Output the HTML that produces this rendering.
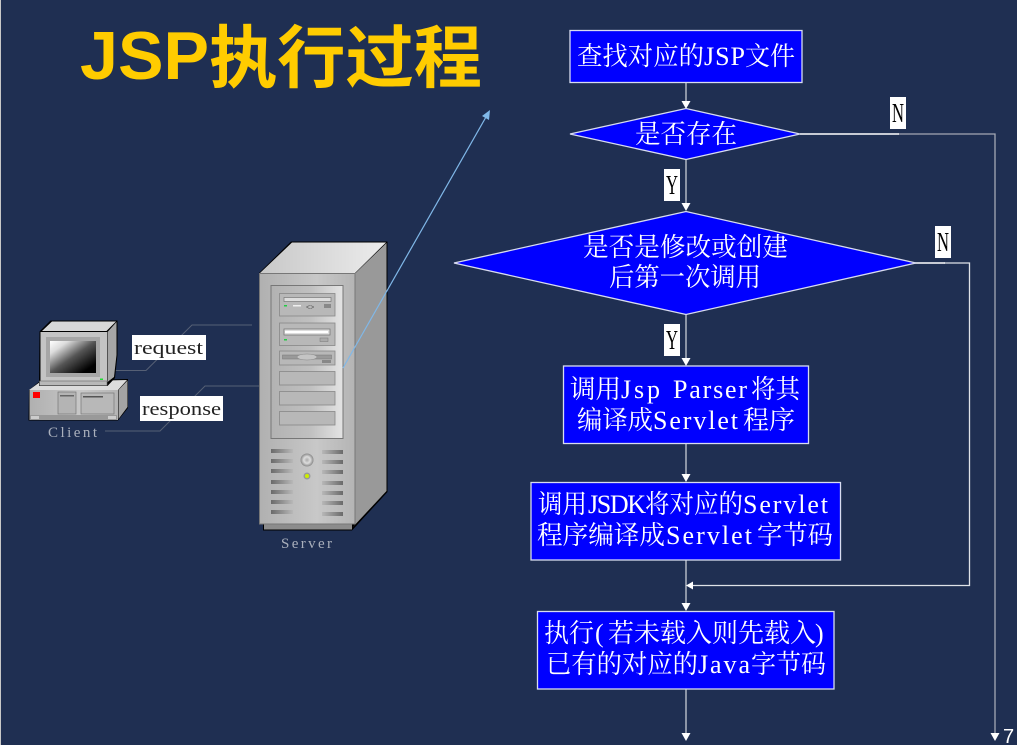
<!DOCTYPE html>
<html><head><meta charset="utf-8"><style>
html,body{margin:0;padding:0;background:#1f2f52;width:1017px;height:745px;overflow:hidden}
svg{display:block}
.t{font-family:"Liberation Serif","Noto Serif CJK SC",serif;font-size:26px;fill:#fff}
.a{font-family:"Liberation Serif",serif;font-size:26px;fill:#fff}
.l{font-family:"Liberation Serif",serif;font-size:27px;fill:#000}
.m{font-family:"Liberation Serif",serif;font-size:19px;fill:#222}
.c{font-family:"Liberation Serif",serif;font-size:15px;fill:#aab0bc}
</style></head><body>
<svg width="1017" height="745" viewBox="0 0 1017 745" xmlns="http://www.w3.org/2000/svg">
<defs>
<linearGradient id="g1" x1="0" x2="1" y1="0" y2="0"><stop offset="0" stop-color="#b0b0b0"/><stop offset="0.6" stop-color="#c8c8c8"/><stop offset="1" stop-color="#b4b4b4"/></linearGradient>
<linearGradient id="g2" x1="0" x2="1" y1="0" y2="0"><stop offset="0" stop-color="#b2b2b2"/><stop offset="0.55" stop-color="#c0c0c0"/><stop offset="1" stop-color="#e4e4e4"/></linearGradient>
<linearGradient id="g3" x1="0" x2="1" y1="0" y2="0"><stop offset="0" stop-color="#c8c8c8"/><stop offset="1" stop-color="#ececec"/></linearGradient>
<linearGradient id="scr" x1="0" y1="0" x2="1" y2="1"><stop offset="0" stop-color="#fff"/><stop offset="0.2" stop-color="#ddd"/><stop offset="0.5" stop-color="#555"/><stop offset="0.85" stop-color="#000"/></linearGradient>
<linearGradient id="vl" x1="0" x2="1" y1="0" y2="0"><stop offset="0" stop-color="#6a6a6a"/><stop offset="1" stop-color="#b8b8b8"/></linearGradient>
<linearGradient id="vr" x1="0" x2="1" y1="0" y2="0"><stop offset="0" stop-color="#b8b8b8"/><stop offset="1" stop-color="#6a6a6a"/></linearGradient>
<radialGradient id="knob"><stop offset="0" stop-color="#aaa"/><stop offset="0.5" stop-color="#ddd"/><stop offset="1" stop-color="#888"/></radialGradient>
</defs>
<rect x="0" y="0" width="1" height="745" fill="#c8c8c8"/>

<!-- Title -->
<text x="80" y="79" font-family="'Liberation Sans',sans-serif" font-weight="700" font-size="68" fill="#ffcc00" textLength="129" lengthAdjust="spacingAndGlyphs">JSP</text>
<text x="209" y="82" font-family="'Noto Sans CJK SC',sans-serif" font-weight="700" font-size="68" fill="#ffcc00" textLength="273" lengthAdjust="spacingAndGlyphs">执行过程</text>

<!-- connection lines -->
<g fill="none" stroke="#566075" stroke-width="1">
<polyline points="115,370.5 146,370.5 192,325 252,325"/>
<polyline points="105,431 160,431 205,386 259,386"/>
</g>

<!-- Client -->
<g>
<polygon points="29,390 40,381 128,379 128,408 118,420.500 28.500,420.500" fill="#000"/>
<polygon points="40,382 127,380 118,390 29,390" fill="#dcdcdc"/>
<polygon points="118.500,390 127.500,380.500 127.500,407 118.500,419" fill="#a4a4a4"/>
<rect x="29.500" y="390" width="88.500" height="30" fill="url(#g1)"/>
<rect x="30" y="415" width="87" height="5" fill="#999"/>
<rect x="31" y="416" width="8" height="3" fill="#ccc"/><rect x="108" y="416" width="8" height="3" fill="#ccc"/>
<rect x="33" y="392" width="7" height="6" fill="#f00"/>
<rect x="58" y="392" width="18" height="22" fill="#b4b4b4" stroke="#777" stroke-width="0.7"/>
<rect x="60" y="395" width="14" height="1.500" fill="#666"/>
<rect x="81" y="393" width="33" height="21" fill="#b8b8b8" stroke="#777" stroke-width="0.7"/>
<rect x="83" y="396" width="20" height="1.500" fill="#555"/>
<polygon points="39.500,331.500 50.500,320.500 117.500,320.500 117.500,355 115,378 107.500,386 39,386" fill="#000"/>
<polygon points="42,331 52,321.500 116,321.500 106.500,331" fill="#d8d8d8"/>
<polygon points="107.500,332 116.500,322 116.500,355 114,377 107.500,382" fill="#a6a6a6"/>
<rect x="40.500" y="332" width="66.500" height="52" fill="#c4c4c4"/>
<rect x="46" y="337" width="54" height="40" fill="#a6a6a6"/>
<rect x="50" y="341" width="46" height="32" fill="url(#scr)"/>
<rect x="100" y="378.500" width="3" height="1.500" fill="#22dd33"/>
<rect x="39.500" y="381" width="67.500" height="4.500" fill="#b8b8b8" stroke="#666" stroke-width="0.6"/>
</g>
<text class="c" x="48" y="437" textLength="49" lengthAdjust="spacing">Client</text>

<!-- Labels -->
<rect x="132" y="335" width="74" height="25" fill="#fff"/>
<text class="m" x="134" y="354" textLength="69" lengthAdjust="spacingAndGlyphs">request</text>
<rect x="140" y="396" width="83" height="25" fill="#fff"/>
<text class="m" x="142" y="415" textLength="79" lengthAdjust="spacingAndGlyphs">response</text>

<!-- Server -->
<g>
<polygon points="259,273 291,241.500 387.500,241.500 387.500,492 352,530.500 263,530.500 263,524 259,524" fill="#000"/>
<polygon points="260,273 292,242.500 386,242.500 355,273" fill="url(#g3)"/>
<polygon points="355.500,273 386.500,243 386.500,491 352,528 355.500,524" fill="#999"/>
<rect x="264" y="524" width="88" height="5.500" fill="#8c8c8c"/>
<rect x="259.500" y="273.500" width="95.500" height="250.500" fill="url(#g1)" stroke="#777" stroke-width="1"/>
<rect x="271" y="285.500" width="72" height="153" fill="url(#g2)" stroke="#777" stroke-width="1"/>
<g fill="#b8b8b8" stroke="#888" stroke-width="0.8">
<rect x="279.500" y="293.500" width="55.500" height="22.500"/>
<rect x="279.500" y="323" width="55.500" height="22.500"/>
<rect x="279.500" y="351" width="55.500" height="14"/>
<rect x="279.500" y="371.500" width="55.500" height="13.500"/>
<rect x="279.500" y="391.500" width="55.500" height="13.500"/>
<rect x="279.500" y="411.500" width="55.500" height="13.500"/>
</g>
<rect x="284" y="297.500" width="47" height="4" fill="#ddd" stroke="#777" stroke-width="0.7"/>
<rect x="293" y="305" width="8" height="1.500" fill="#eee"/>
<text x="306" y="309.500" font-family="'Liberation Sans',sans-serif" font-size="7" fill="#555">&lt;&gt;</text>
<rect x="324" y="304" width="7" height="4" fill="#888"/>
<rect x="284" y="329" width="46" height="6" fill="#ddd" stroke="#777" stroke-width="0.8"/>
<rect x="285" y="331" width="43" height="2" fill="#fff"/>
<rect x="320" y="338" width="8" height="3.500" fill="#aaa" stroke="#777" stroke-width="0.5"/>
<rect x="284" y="305" width="3" height="1.500" fill="#22cc44"/>
<rect x="284" y="339" width="3" height="1.500" fill="#22cc44"/>
<rect x="282.500" y="355" width="49" height="4" fill="#999" stroke="#777" stroke-width="0.5"/>
<ellipse cx="307" cy="357" rx="10" ry="3" fill="#c4c4c4" stroke="#888" stroke-width="0.5"/>
<rect x="322" y="360" width="9" height="3" fill="#888"/>
<g fill="url(#vl)">
<rect x="271" y="449" width="22" height="4"/><rect x="271" y="459" width="22" height="4"/><rect x="271" y="469" width="22" height="4"/><rect x="271" y="480" width="22" height="4"/><rect x="271" y="490" width="22" height="4"/><rect x="271" y="500" width="22" height="4"/><rect x="271" y="510" width="22" height="4"/>
</g>
<g fill="url(#vr)">
<rect x="322" y="450" width="21" height="4"/><rect x="322" y="460" width="21" height="4"/><rect x="322" y="470" width="21" height="4"/><rect x="322" y="481" width="21" height="4"/><rect x="322" y="491" width="21" height="4"/><rect x="322" y="501" width="21" height="4"/><rect x="322" y="512" width="21" height="4"/>
</g>
<circle cx="307" cy="460" r="6.500" fill="url(#knob)"/>
<circle cx="307" cy="476" r="3.500" fill="#999"/>
<circle cx="307" cy="476" r="2" fill="#ccee00"/>
</g>
<text class="c" x="281" y="548" textLength="51" lengthAdjust="spacing">Server</text>

<!-- Blue arrow -->
<line x1="343" y1="368" x2="486" y2="117" stroke="#80b8e8" stroke-width="1.200"/>
<polygon points="490,110 489,120 482,116" fill="#80b8e8"/>

<!-- Connectors -->
<g fill="none" stroke="#c8ccd4" stroke-width="1.300">
<line x1="686" y1="82" x2="686" y2="104"/>
<line x1="686" y1="159" x2="686" y2="206"/>
<line x1="686" y1="314" x2="686" y2="360"/>
<line x1="686" y1="444" x2="686" y2="476"/>
<line x1="686" y1="560" x2="686" y2="605"/>
<line x1="686" y1="689" x2="686" y2="735"/>
<polyline points="898,134 995,134 995,735" stroke="#a4a8b4"/>
<polyline points="944,263 969.500,263 969.500,585.500 692,585.500" stroke="#dfe2e8"/>
</g>
<line x1="800" y1="134" x2="899" y2="134" stroke="#fff" stroke-width="1.500"/>
<line x1="915" y1="263" x2="945" y2="263" stroke="#fff" stroke-width="1.500"/>
<g fill="#fff">
<polygon points="686,109 681.500,101 690.500,101"/>
<polygon points="686,211 681.500,203 690.500,203"/>
<polygon points="686,366 681.500,358 690.500,358"/>
<polygon points="686,482 681.500,474 690.500,474"/>
<polygon points="686,611 681.500,603 690.500,603"/>
<polygon points="686,741 681.500,733 690.500,733"/>
<polygon points="995,741 990.500,733 999.500,733"/>
<polygon points="686,585.500 693,581.500 693,589.500"/>
</g>

<!-- Nodes -->
<g fill="#0000ff" stroke="#d8dcf0" stroke-width="1.300">
<rect x="570" y="30.500" width="232" height="52"/>
<polygon points="570,134 686,108.500 800,134 686,159.500"/>
<polygon points="454,263 686,211.500 916,263 686,314.500"/>
<rect x="563.500" y="366" width="245" height="77.500"/>
<rect x="531" y="482.500" width="309.500" height="77.500"/>
<rect x="537.500" y="611.500" width="296.500" height="77.500"/>
</g>

<text class="t" x="577" y="65" textLength="127" lengthAdjust="spacingAndGlyphs">查找对应的</text>
<text class="a" x="704" y="65" textLength="41" lengthAdjust="spacing">JSP</text>
<text class="t" x="745" y="65" textLength="50" lengthAdjust="spacingAndGlyphs">文件</text>
<text class="t" x="635" y="143" textLength="102" lengthAdjust="spacingAndGlyphs">是否存在</text>
<text class="t" x="583" y="256" textLength="205" lengthAdjust="spacingAndGlyphs">是否是修改或创建</text>
<text class="t" x="609" y="286" textLength="152" lengthAdjust="spacingAndGlyphs">后第一次调用</text>

<text class="t" x="570" y="398" textLength="51" lengthAdjust="spacingAndGlyphs">调用</text>
<text class="a" x="621" y="398" textLength="39" lengthAdjust="spacing">Jsp</text>
<text class="a" x="673" y="398" textLength="74" lengthAdjust="spacing">Parser</text>
<text class="t" x="751" y="398" textLength="49" lengthAdjust="spacingAndGlyphs">将其</text>

<text class="t" x="577" y="429" textLength="76" lengthAdjust="spacingAndGlyphs">编译成</text>
<text class="a" x="653" y="429" textLength="85" lengthAdjust="spacing">Servlet</text>
<text class="t" x="743" y="429" textLength="52" lengthAdjust="spacingAndGlyphs">程序</text>

<text class="t" x="538" y="513" textLength="49" lengthAdjust="spacingAndGlyphs">调用</text>
<text class="a" x="588" y="513" textLength="58" lengthAdjust="spacing">JSDK</text>
<text class="t" x="645" y="513" textLength="98" lengthAdjust="spacingAndGlyphs">将对应的</text>
<text class="a" x="743" y="513" textLength="85" lengthAdjust="spacing">Servlet</text>

<text class="t" x="537" y="544" textLength="128" lengthAdjust="spacingAndGlyphs">程序编译成</text>
<text class="a" x="666" y="544" textLength="86" lengthAdjust="spacing">Servlet</text>
<text class="t" x="757" y="544" textLength="76" lengthAdjust="spacingAndGlyphs">字节码</text>

<text class="t" x="544" y="642" textLength="50" lengthAdjust="spacingAndGlyphs">执行</text>
<text class="a" x="595" y="642">(</text>
<text class="t" x="608" y="642" textLength="208" lengthAdjust="spacingAndGlyphs">若未载入则先载入</text>
<text class="a" x="815" y="642">)</text>

<text class="t" x="546" y="673" textLength="152" lengthAdjust="spacingAndGlyphs">已有的对应的</text>
<text class="a" x="698" y="673" textLength="52" lengthAdjust="spacing">Java</text>
<text class="t" x="751" y="673" textLength="75" lengthAdjust="spacingAndGlyphs">字节码</text>

<!-- Y/N tags -->
<g fill="#fff">
<rect x="890" y="97" width="16" height="32"/>
<rect x="664" y="169" width="16" height="32"/>
<rect x="935" y="226" width="16" height="32"/>
<rect x="664" y="324" width="16" height="32"/>
</g>
<text class="l" x="892" y="122" textLength="12" lengthAdjust="spacingAndGlyphs">N</text>
<text class="l" x="666" y="194" textLength="12" lengthAdjust="spacingAndGlyphs">Y</text>
<text class="l" x="937" y="251" textLength="12" lengthAdjust="spacingAndGlyphs">N</text>
<text class="l" x="666" y="349" textLength="12" lengthAdjust="spacingAndGlyphs">Y</text>

<text x="1003" y="743" font-family="'Liberation Sans',sans-serif" font-size="20" fill="#fff">7</text>
</svg>
</body></html>
